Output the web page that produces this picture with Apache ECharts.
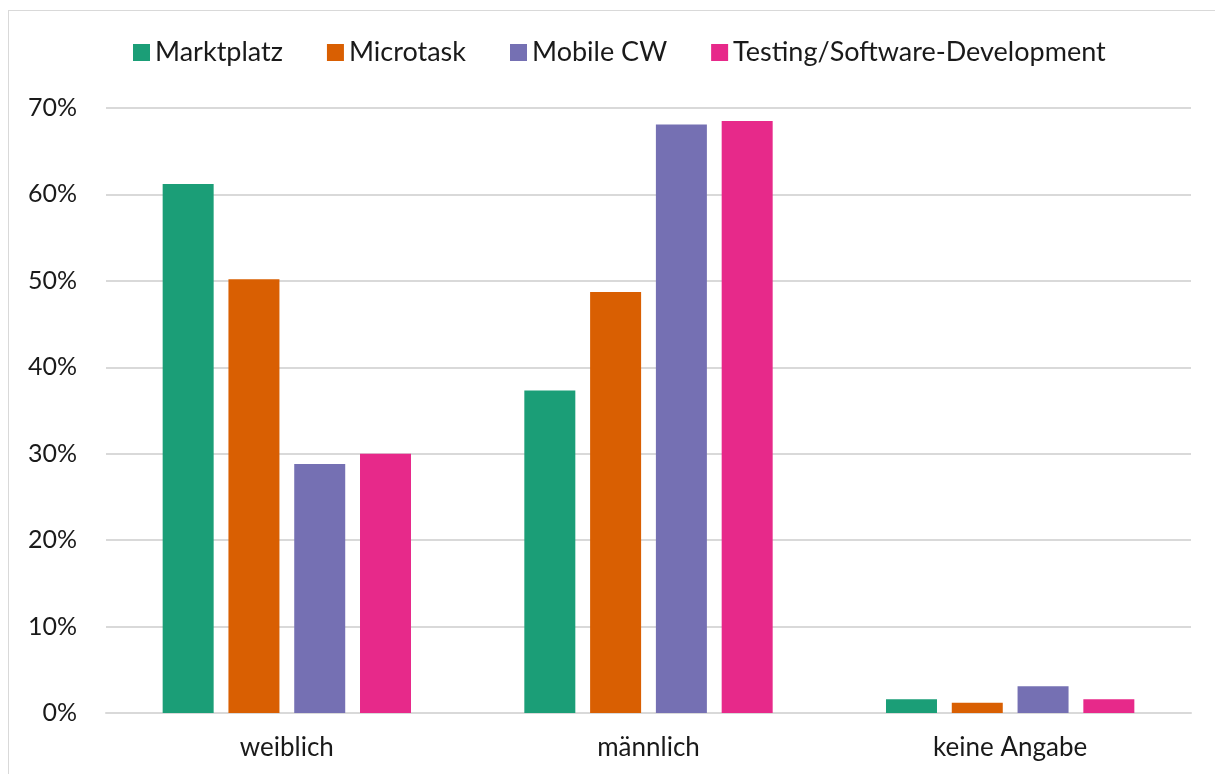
<!DOCTYPE html>
<html>
<head>
<meta charset="utf-8">
<script src="https://cdn.jsdelivr.net/npm/echarts@6/dist/echarts.min.js"></script>
<style>
  html, body { margin: 0; padding: 0; background: #fff; }
  #frame { position: absolute; left: 8px; top: 10px; width: 1215px; height: 770px; border: 1px solid #d9d9d9; box-sizing: border-box; }
  #chart { position: absolute; left: 0; top: 0; width: 1215px; height: 774px; }
</style>
</head>
<body>
<div id="frame"></div>
<div id="chart"></div>
<script>
// categories and series (share of respondents, %)
const categories = ['weiblich', 'männlich', 'keine Angabe'];
const seriesNames = ['Marktplatz', 'Microtask', 'Mobile CW', 'Testing/Software-Development'];
const marktplatz = [61.2, 37.3, 1.6];
const microtask = [50.2, 48.7, 1.2];
const mobileCW = [28.8, 68.1, 3.1];
const testing = [30.0, 68.5, 1.6];
const colors = ['#1B9E77', '#D95F02', '#7570B3', '#E7298A'];

const font = 'Lato, "Open Sans", sans-serif';
const chart = echarts.init(document.getElementById('chart'));

let option = {
  color: colors,
  animation: false,
  textStyle: { fontFamily: font },
  legend: {
    top: 34,
    left: 128,
    itemWidth: 17,
    itemHeight: 17,
    itemGap: 44,
    icon: 'rect',
    textStyle: { fontSize: 27, color: '#1a1a1a', fontFamily: font },
    data: seriesNames
  },
  grid: {
    left: 106,
    right: 24,
    top: 108,
    bottom: 61
  },
  xAxis: {
    type: 'category',
    data: categories,
    axisTick: { show: false },
    axisLine: { lineStyle: { color: '#d9d9d9', width: 2 } },
    axisLabel: { fontSize: 26, color: '#1a1a1a', margin: 22 }
  },
  yAxis: {
    type: 'value',
    min: 0,
    max: 70,
    interval: 10,
    axisLine: { show: false },
    axisTick: { show: false },
    splitLine: { lineStyle: { color: '#d9d9d9', width: 2 } },
    axisLabel: { fontSize: 25, color: '#1a1a1a', margin: 29, formatter: '{value}%' }
  },
  series: [
    { name: seriesNames[0], type: 'bar', barWidth: '14.1%', barGap: '29%', data: marktplatz },
    { name: seriesNames[1], type: 'bar', barWidth: '14.1%', data: microtask },
    { name: seriesNames[2], type: 'bar', barWidth: '14.1%', data: mobileCW },
    { name: seriesNames[3], type: 'bar', barWidth: '14.1%', data: testing }
  ]
};

chart.setOption(option);
</script>
</body>
</html>
